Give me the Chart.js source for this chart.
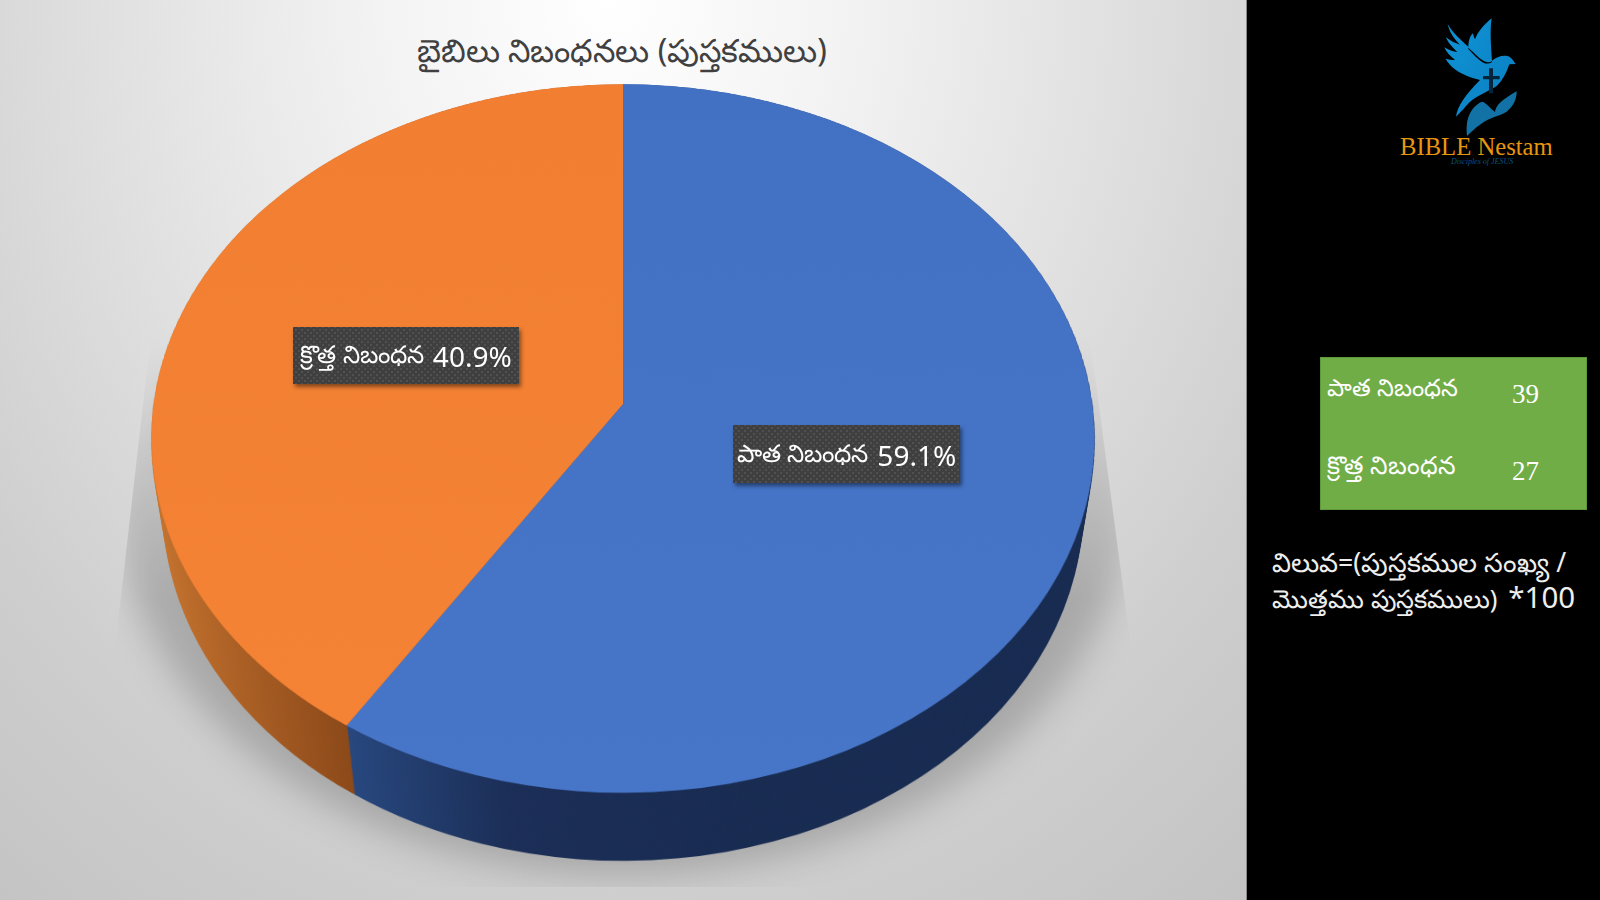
<!DOCTYPE html>
<html><head><meta charset="utf-8">
<script src="https://cdn.jsdelivr.net/npm/chart.js"></script>
<style>
html,body{margin:0;padding:0;width:1600px;height:900px;overflow:hidden;background:#000}
#plot{position:absolute;left:0;top:0;width:1246px;height:900px;overflow:hidden;border-right:1px solid #8a8a8a;box-sizing:content-box;
 background:radial-gradient(ellipse 770px 900px at 610px 0,#fff 0%,#f3f3f3 30%,#dfdfdf 68%,#cecece 100%,#bcbcbc 150%)}
#shadowClip{position:absolute;left:0;top:0;width:1246px;height:900px;clip-path:polygon(155px 300px,1085px 300px,1130px 640px,1130px 887px,116px 887px,116px 640px);
 -webkit-mask-image:linear-gradient(to bottom,transparent 330px,rgba(0,0,0,.55) 480px,#000 600px);mask-image:linear-gradient(to bottom,transparent 330px,rgba(0,0,0,.55) 480px,#000 600px)}
#shadow{position:absolute;left:118px;top:125px;width:1010px;height:750px;border-radius:50%;background:rgba(0,0,0,.2);filter:blur(18px)}
.pie{position:absolute;left:142.8px;top:-76px;width:960px;height:960px;transform-origin:480px 480px}
.t{position:absolute;white-space:nowrap;font-family:'Noto Sans',sans-serif;line-height:1;transform:translateY(-50%)}
.box{position:absolute;display:flex;align-items:center;justify-content:center;color:#fff;white-space:nowrap;font-family:'Noto Sans',sans-serif;padding-top:1px;box-sizing:border-box;
 background-color:#3f3f3f;background-image:radial-gradient(#505050 .8px,transparent 1.1px),radial-gradient(#505050 .8px,transparent 1.1px);background-size:6px 6px;background-position:0 0,3px 3px;box-shadow:2px 3px 4px rgba(0,0,0,.45)}
.box .n{font-size:28px;margin-left:5px}.box .l{font-size:24.5px}
#green{position:absolute;left:1320px;top:357px;width:267px;height:153px;background:#70ad47;border:1px solid #5f9a3a;box-sizing:border-box}
</style></head>
<body>
<div id="plot">
  <div id="shadowClip"><div id="shadow"></div></div>
  <div id="walls"></div>
  <canvas id="top" class="pie" width="960" height="960"></canvas>
  <div id="title" class="t" style="left:0;width:1244px;text-align:center;top:50px;color:#404040;font-size:32px"></div>
  <div id="lab1" class="box" style="left:733px;top:425px;width:227px;height:58px"></div>
  <div id="lab2" class="box" style="left:293px;top:327px;width:226px;height:57px"></div>
</div>
<div id="green"></div>
<div id="r1" class="t" style="left:1327px;top:387px;color:#fff;font-size:24px"></div>
<div id="v1" class="t" style="left:1512px;top:394px;color:#fff;font-size:27px;font-family:'Liberation Serif',serif"></div>
<div id="r2" class="t" style="left:1327px;top:464px;color:#fff;font-size:25px"></div>
<div id="v2" class="t" style="left:1512px;top:471px;color:#fff;font-size:27px;font-family:'Liberation Serif',serif"></div>
<div id="f1" class="t" style="left:1272px;top:562px;color:#eee;font-size:26.7px"></div>
<div id="f2" class="t" style="left:1272px;top:597px;color:#eee;font-size:25.5px"></div>
<svg style="position:absolute;left:1340px;top:0" width="260" height="190" viewBox="0 0 780 570">
  <defs><linearGradient id="bird" x1="0" y1="0" x2="1" y2="1"><stop offset="0" stop-color="#0f93d6"/><stop offset="1" stop-color="#0a7fc0"/></linearGradient></defs>
  <path fill="url(#bird)" d="M323 72C335 95 360 118 385 140C385 125 390 108 398 100C400 105 402 112 405 118C412 98 430 75 455 55C450 85 452 130 456 182C470 170 495 162 510 172C518 178 522 185 527 192L508 193C500 215 490 240 470 258C440 278 400 290 378 318C368 330 358 340 348 350C352 320 375 285 420 240C385 232 345 215 328 192C322 186 320 180 316 176C325 178 335 180 345 180C330 168 318 155 313 142C325 150 340 155 352 156C335 140 322 125 318 112C330 122 345 130 360 134C340 115 328 95 323 72Z"/>
  <path fill="#000" d="M385 143C405 160 420 180 440 186C446 188 452 186 456 182L456 186C448 192 438 192 430 188C412 178 398 160 385 147Z"/>
  <path fill="#04243a" d="M447 205H459V228H479V238H459V280H447V238H429V228H447Z"/>
  <path fill="#1272a6" d="M381 408C378 380 380 350 398 327C408 315 418 307 427 305C438 308 448 322 465 336C468 315 485 300 530 274C530 295 522 318 500 335C482 347 458 350 435 364C415 376 398 392 381 408Z"/>
  <text x="180" y="464" font-family="Liberation Serif,serif" font-size="74" fill="#e8960f">BIBLE Nestam</text>
  <text x="333" y="492" font-family="Liberation Serif,serif" font-style="italic" font-size="24" fill="#0e527f">Disciples of JESUS</text>
</svg>
<script>
const titleText = 'బైబిలు నిబంధనలు (పుస్తకములు)';
const categories = ['పాత నిబంధన', 'క్రొత్త నిబంధన'];
const values = [39, 27];
const formulaLines = ['విలువ=(పుస్తకముల సంఖ్య /', 'మొత్తము పుస్తకములు)', '*100'];
const total = values.reduce((a, b) => a + b, 0);
const percents = values.map(v => (v / total * 100).toFixed(1) + '%');

const SIZE = 960, R = 469.3, TILT = 41.6, PERSP = 3200, DEPTH = 110.3, STEP = 2.5;
const pose = z => `perspective(${PERSP}px) rotateX(${TILT}deg) translateZ(${-z}px)`;

function grad(ctx, x0, y0, x1, y1, stops) {
  const g = ctx.createLinearGradient(x0, y0, x1, y1);
  stops.forEach(([o, c]) => g.addColorStop(o, c));
  return g;
}
function pie(canvas, colors) {
  return new Chart(canvas, {
    type: 'pie',
    data: { labels: categories, datasets: [{ data: values, backgroundColor: colors, borderWidth: 0, radius: R }] },
    options: { responsive: false, animation: false, devicePixelRatio: 1, events: [],
      plugins: { legend: { display: false }, tooltip: { enabled: false } } }
  });
}

// side wall: one darker chart, stacked down the depth of the disc
const walls = document.getElementById('walls');
const base = document.createElement('canvas');
base.width = base.height = SIZE; base.className = 'pie';
const bc = base.getContext('2d');
pie(base, [
  grad(bc, 226, 0, 960, 0, [[0, '#27477e'], [.2, '#1b2e57'], [.5, '#182b51'], [1, '#172a50']]),
  grad(bc, 10, 0, 226, 0, [[0, '#c9752f'], [1, '#8c4919']])
]);
const zs = [];
for (let z = DEPTH; z > 0; z -= STEP) zs.push(z);
zs.forEach(z => {
  const c = document.createElement('canvas');
  c.width = c.height = SIZE; c.className = 'pie';
  c.getContext('2d').drawImage(base, 0, 0);
  c.style.transform = pose(z);
  walls.appendChild(c);
});

// top face
const topC = document.getElementById('top');
const tc = topC.getContext('2d');
topC.style.transform = pose(0);
pie(topC, [
  grad(tc, 0, 0, 0, 960, [[0, '#4271c3'], [1, '#4776c9']]),
  grad(tc, 0, 0, 0, 960, [[0, '#f17e31'], [1, '#f58335']])
]);

const byId = id => document.getElementById(id);
byId('title').textContent = titleText;
[['lab1', 0], ['lab2', 1]].forEach(([id, i]) => {
  byId(id).innerHTML = `<span class="l">${categories[i]}</span>&nbsp;<span class="n">${percents[i]}</span>`;
});
byId('r1').textContent = categories[0]; byId('v1').textContent = values[0];
byId('r2').textContent = categories[1]; byId('v2').textContent = values[1];
byId('f1').textContent = formulaLines[0];
byId('f2').innerHTML = formulaLines[1] + `<span style="font-size:29.5px;margin-left:11px">${formulaLines[2]}</span>`;
</script>
</body></html>
